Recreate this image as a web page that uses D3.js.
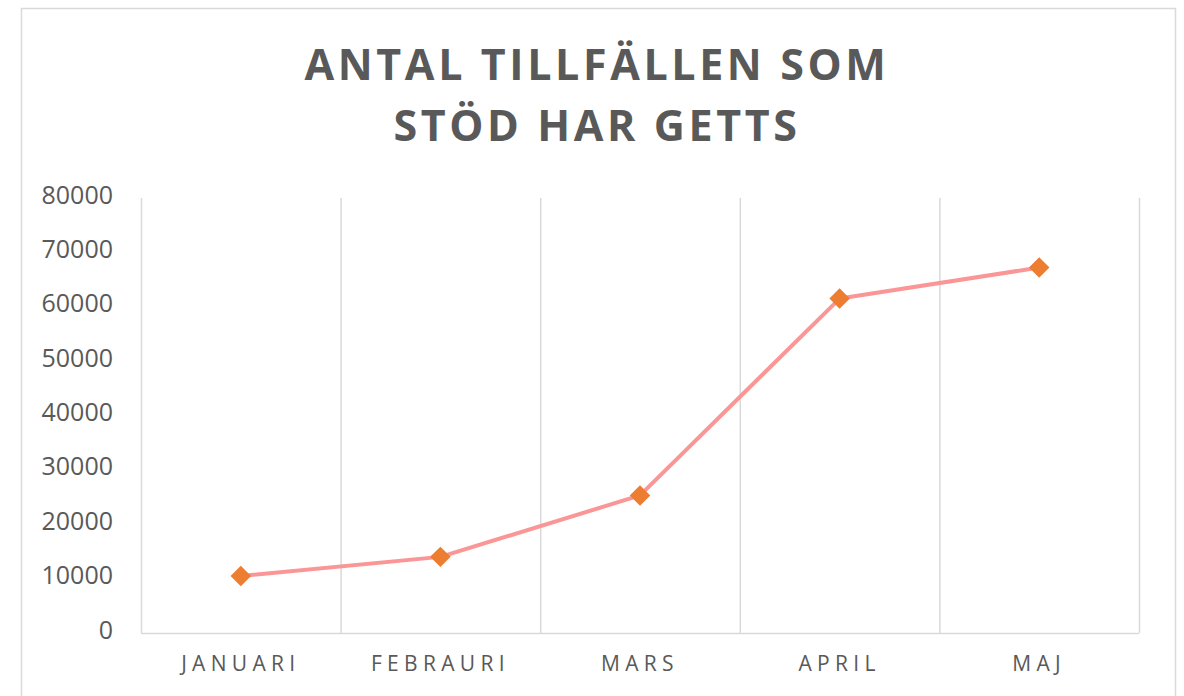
<html>
<head>
<meta charset="utf-8">
<style>
  body { margin: 0; background: #fff; }
  text { font-family: "Open Sans", "DejaVu Sans", sans-serif; }
</style>
</head>
<body>
<svg id="chart" width="1184" height="696"></svg>
<script src="https://d3js.org/d3.v7.min.js"></script>
<script>

// data
var months = ["JANUARI", "FEBRAURI", "MARS", "APRIL", "MAJ"];
var counts = [10500, 14000, 25300, 61500, 67200];
var titleLines = ["ANTAL TILLFÄLLEN SOM", "STÖD HAR GETTS"];
var yTicks = [0, 10000, 20000, 30000, 40000, 50000, 60000, 70000, 80000];

var svg = d3.select("#chart");

// chart frame
svg.append("rect")
  .attr("x", 21.5).attr("y", 8.5)
  .attr("width", 1154).attr("height", 720)
  .attr("fill", "#fff")
  .attr("stroke", "#d9d9d9")
  .attr("stroke-width", 1.5);

var plotLeft = 141, plotRight = 1139, plotTop = 198, plotBottom = 633;

var x = d3.scaleBand()
  .domain(months)
  .range([plotLeft, plotRight]);

var y = d3.scaleLinear()
  .domain([0, 80000])
  .range([plotBottom, plotTop]);

// vertical gridlines on the category boundaries
var edges = months.map(function(m) { return x(m) }).concat([plotRight]);
svg.selectAll(".vgrid")
  .data(edges)
  .enter().append("line")
    .attr("x1", function(d) { return d + 0.5 })
    .attr("x2", function(d) { return d + 0.5 })
    .attr("y1", plotTop)
    .attr("y2", plotBottom)
    .attr("stroke", "#d9d9d9")
    .attr("stroke-width", 1.5);

// category axis line
svg.append("line")
  .attr("x1", plotLeft).attr("x2", plotRight)
  .attr("y1", plotBottom + 0.5).attr("y2", plotBottom + 0.5)
  .attr("stroke", "#d9d9d9")
  .attr("stroke-width", 1.5);

// y axis labels
var yAxis = svg.append("g")
  .attr("transform", "translate(" + plotLeft + ",0)")
  .call(d3.axisLeft(y).tickValues(yTicks).tickSize(0).tickPadding(28).tickFormat(d3.format("d")));
yAxis.select(".domain").remove();
yAxis.selectAll("text")
  .attr("fill", "#595959")
  .style("font-size", "25px")
  .style("font-family", "'Open Sans', sans-serif")
  .attr("dy", "0.2em");

// x labels
svg.selectAll(".xlab")
  .data(months)
  .enter().append("text")
    .attr("x", function(d) { return x(d) + x.bandwidth() / 2 })
    .attr("y", 671)
    .attr("text-anchor", "middle")
    .attr("fill", "#595959")
    .style("font-size", "21px")
    .style("letter-spacing", "5.3px")
    .text(function(d) { return d });

// title
svg.selectAll(".title")
  .data(titleLines)
  .enter().append("text")
    .attr("x", 597)
    .attr("y", function(d, i) { return 80 + i * 61 })
    .attr("text-anchor", "middle")
    .attr("fill", "#595959")
    .style("font-size", "43px")
    .style("font-weight", "bold")
    .style("letter-spacing", "3.6px")
    .text(function(d) { return d });

// the line
var line = d3.line()
  .x(function(d, i) { return x(months[i]) + x.bandwidth() / 2 })
  .y(function(d) { return y(d) });

svg.append("path")
  .attr("d", line(counts))
  .attr("fill", "none")
  .attr("stroke", "#fa9696")
  .attr("stroke-width", 4)
  .attr("stroke-linejoin", "round");

// diamond markers
svg.selectAll(".marker")
  .data(counts)
  .enter().append("path")
    .attr("d", d3.symbol().type(d3.symbolSquare).size(210))
    .attr("transform", function(d, i) {
      return "translate(" + (x(months[i]) + x.bandwidth() / 2) + "," + y(d) + ") rotate(45)";
    })
    .attr("fill", "#ed7d31");

</script>
</body>
</html>
